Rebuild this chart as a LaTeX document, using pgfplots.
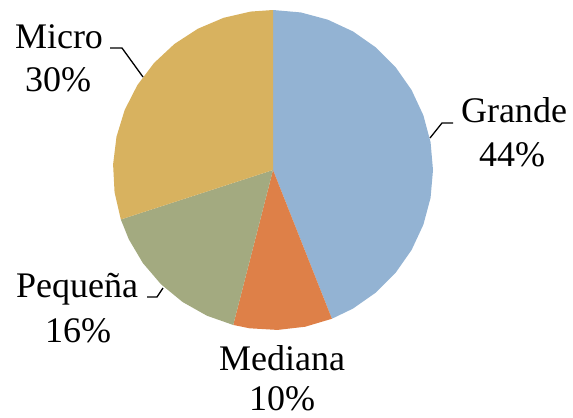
\documentclass[border=0pt]{standalone}
\usepackage{pgfplots}
\pgfplotsset{compat=1.18}
\usepgfplotslibrary{polar}
\usepackage{fontspec}
\setmainfont{Liberation Serif}

\definecolor{cGrande}{HTML}{93B3D3}
\definecolor{cMediana}{HTML}{DE8048}
\definecolor{cPeq}{HTML}{A3AA80}
\definecolor{cMicro}{HTML}{D8B25F}

\begin{document}
\begin{tikzpicture}
% shares: Grande 44%, Mediana 10%, Pequena 16%, Micro 30%
% angle = 90 - 3.6*cumulative share (clockwise from the top)
\begin{polaraxis}[
	name=pie,
	hide axis,
	scale only axis,
	width=320bp, height=320bp,
	ymin=0, ymax=1,
	clip=false,
]
% Grande 44%: 90 -> -68.4
\addplot[fill=cGrande, draw=none] coordinates {
(0,0) (90,1) (80,1) (70,1) (60,1) (50,1) (40,1) (30,1) (20,1) (10,1) (0,1)
(-10,1) (-20,1) (-30,1) (-40,1) (-50,1) (-60,1) (-68.4,1)
} -- cycle;
% Mediana 10%: -68.4 -> -104.4
\addplot[fill=cMediana, draw=none] coordinates {
(0,0) (-68.4,1) (-78.4,1) (-88.4,1) (-98.4,1) (-104.4,1)
} -- cycle;
% Pequena 16%: -104.4 -> -162
\addplot[fill=cPeq, draw=none] coordinates {
(0,0) (-104.4,1) (-114.4,1) (-124.4,1) (-134.4,1) (-144.4,1) (-154.4,1) (-162,1)
} -- cycle;
% Micro 30%: -162 -> -270
\addplot[fill=cMicro, draw=none] coordinates {
(0,0) (-162,1) (-172,1) (-182,1) (-192,1) (-202,1) (-212,1) (-222,1)
(-232,1) (-242,1) (-252,1) (-262,1) (-270,1)
} -- cycle;
\end{polaraxis}

% labels and leader lines, in pixels relative to the pie centre
\begin{scope}[shift={(pie.center)}, x=1bp, y=-1bp,
	lbl/.style={align=center, inner sep=0pt, font=\fontsize{36bp}{44bp}\selectfont}]
\draw[line width=1.3bp] (-163,-122) -- (-151,-122) -- (-130,-93);
\draw[line width=1.3bp] (157,-32) -- (169,-47) -- (180,-47);
\draw[line width=1.3bp] (-126,127) -- (-116,127) -- (-110,118);
\node[lbl, anchor=base] at (-214,-122) {Micro};
\node[lbl, anchor=base] at (-215,-79) {30\%};
\node[lbl, anchor=base] at (241,-48) {Grande};
\node[lbl, anchor=base] at (239,-4) {44\%};
\node[lbl, anchor=base] at (-196,127) {Pequeña};
\node[lbl, anchor=base] at (-195,172) {16\%};
\node[lbl, anchor=base] at (9,200) {Mediana};
\node[lbl, anchor=base] at (9,240) {10\%};
\useasboundingbox (-273,-170) rectangle (300,247);
\end{scope}
\end{tikzpicture}
\end{document}
